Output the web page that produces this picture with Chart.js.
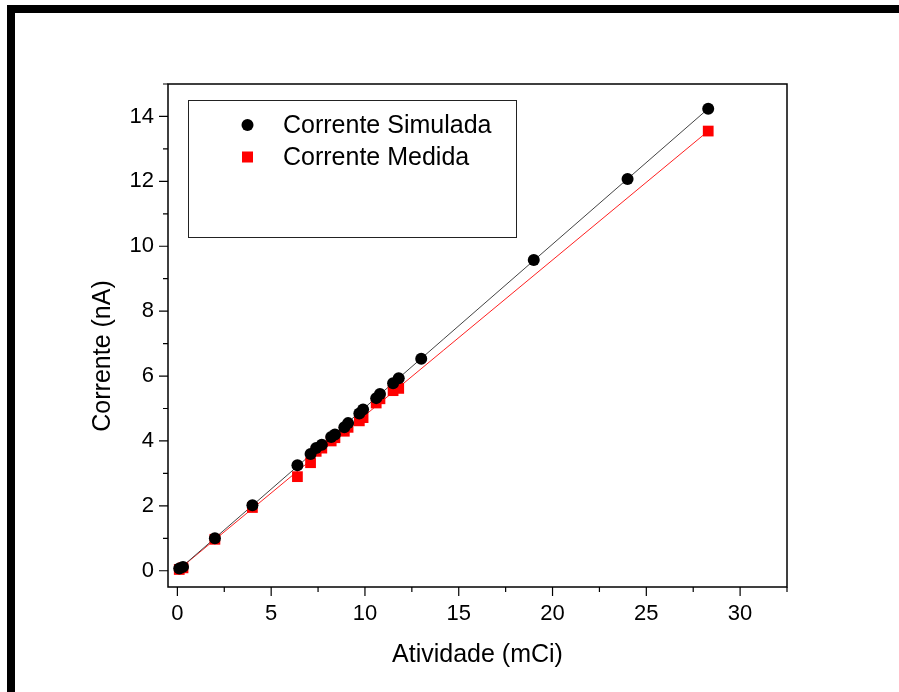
<!DOCTYPE html>
<html>
<head>
<meta charset="utf-8">
<script src="https://cdn.jsdelivr.net/npm/chart.js@4.4.0/dist/chart.umd.min.js"></script>
<style>
  html, body { margin: 0; padding: 0; background: #fff; overflow: hidden; }
  canvas { display: block; }
</style>
</head>
<body>
<canvas id="chart-corrente" width="899" height="692"></canvas>
<script>
// Corrente Simulada (black circles)
const simX = [0.1, 0.3, 2.0, 4.0, 6.4, 7.1, 7.4, 7.7, 8.2, 8.4, 8.9, 9.1, 9.7, 9.9, 10.6, 10.8, 11.5, 11.8, 13.0, 19.0, 24.0, 28.3];
const simY = [0.07, 0.12, 1.0, 2.02, 3.25, 3.6, 3.78, 3.88, 4.12, 4.2, 4.42, 4.55, 4.85, 4.97, 5.32, 5.45, 5.78, 5.93, 6.53, 9.58, 12.07, 14.24];

// Corrente Medida (red squares)
const medX = [0.1, 0.3, 2.0, 4.0, 6.4, 7.1, 7.4, 7.7, 8.2, 8.4, 8.9, 9.1, 9.7, 9.9, 10.6, 10.8, 11.5, 11.8, 28.3];
const medY = [0.04, 0.09, 0.97, 1.95, 2.9, 3.33, 3.68, 3.78, 4.0, 4.1, 4.3, 4.42, 4.62, 4.72, 5.17, 5.3, 5.55, 5.62, 13.55];

// linear fits, end points
const simFitX = [0.1, 28.3];
const simFitY = [0.05, 14.24];
const medFitX = [0.1, 28.3];
const medFitY = [0.05, 13.55];

// axes
const xTicks = [0, 5, 10, 15, 20, 25, 30];
const xMinor = [2.5, 7.5, 12.5, 17.5, 22.5, 27.5, 32.5];
const yTicks = [0, 2, 4, 6, 8, 10, 12, 14];
const yMinor = [1, 3, 5, 7, 9, 11, 13, 15];

const FONT = '"Liberation Sans", Arial, sans-serif';

const pts = (xs, ys) => xs.map((x, i) => ({ x: x, y: ys[i] }));

// frame, box, tick marks, axis titles and legend
const decor = {
    id: 'decor',
    beforeDraw(chart) {
        const c = chart.ctx;
        c.save();
        c.fillStyle = '#fff';
        c.fillRect(0, 0, chart.width, chart.height);
        c.fillStyle = '#000';
        c.fillRect(7, 5, 892, 8);
        c.fillRect(7, 5, 8, 687);
        c.restore();
    },
    afterDraw(chart) {
        const c = chart.ctx;
        const a = chart.chartArea;
        const xs = chart.scales.x, ys = chart.scales.y;
        c.save();
        c.strokeStyle = '#000';
        c.lineWidth = 1.5;
        c.strokeRect(a.left, a.top, a.right - a.left, a.bottom - a.top);

        c.lineWidth = 1.2;
        c.beginPath();
        xTicks.forEach(v => { const p = xs.getPixelForValue(v); c.moveTo(p, a.bottom); c.lineTo(p, a.bottom + 9); });
        xMinor.forEach(v => { const p = xs.getPixelForValue(v); c.moveTo(p, a.bottom); c.lineTo(p, a.bottom + 5); });
        yTicks.forEach(v => { const p = ys.getPixelForValue(v); c.moveTo(a.left, p); c.lineTo(a.left - 9, p); });
        yMinor.forEach(v => { const p = ys.getPixelForValue(v); c.moveTo(a.left, p); c.lineTo(a.left - 5, p); });
        c.stroke();

        // axis titles
        c.fillStyle = '#000';
        c.font = '25px ' + FONT;
        c.textAlign = 'center';
        c.textBaseline = 'alphabetic';
        c.fillText('Atividade (mCi)', (a.left + a.right) / 2, 662);
        c.translate(110, 356);
        c.rotate(-Math.PI / 2);
        c.fillText('Corrente (nA)', 0, 0);
        c.setTransform(1, 0, 0, 1, 0, 0);

        // legend box
        c.lineWidth = 1;
        c.strokeStyle = '#222';
        c.strokeRect(188.5, 100.5, 328, 137);
        c.font = '25px ' + FONT;
        c.textAlign = 'left';
        c.textBaseline = 'middle';
        const rows = [chart.data.datasets[0], chart.data.datasets[1]];
        rows.forEach((ds, i) => {
            const y = 125 + i * 32;
            c.fillStyle = ds.backgroundColor;
            if (ds.pointStyle === 'rect') {
                c.fillRect(242, y - 5.5, 11, 11);
            } else {
                c.beginPath();
                c.arc(247.5, y, 6, 0, Math.PI * 2);
                c.fill();
            }
            c.fillStyle = '#000';
            c.fillText(ds.label, 283, y + 1);
        });
        c.restore();
    }
};

let ctx = document.getElementById('chart-corrente').getContext('2d');

let chart = new Chart(ctx, {
    type: 'scatter',
    data: {
        datasets: [
            {
                label: 'Corrente Simulada',
                data: pts(simX, simY),
                pointStyle: 'circle',
                pointRadius: 6,
                backgroundColor: '#000',
                borderColor: '#000',
                borderWidth: 0,
                order: 0
            },
            {
                label: 'Corrente Medida',
                data: pts(medX, medY),
                pointStyle: 'rect',
                pointRadius: 7.6,
                backgroundColor: '#ff0000',
                borderColor: '#ff0000',
                borderWidth: 0,
                order: 1
            },
            {
                label: 'ajuste simulada',
                data: pts(simFitX, simFitY),
                showLine: true,
                pointRadius: 0,
                borderColor: '#444',
                borderWidth: 1,
                order: 2
            },
            {
                label: 'ajuste medida',
                data: pts(medFitX, medFitY),
                showLine: true,
                pointRadius: 0,
                borderColor: '#ff2020',
                borderWidth: 1,
                order: 2
            }
        ]
    },
    options: {
        responsive: false,
        maintainAspectRatio: false,
        devicePixelRatio: 1,
        animation: false,
        events: [],
        layout: { padding: { left: 0, top: 84, right: 112, bottom: 0 } },
        plugins: {
            legend: { display: false },
            tooltip: { enabled: false },
            title: { display: false }
        },
        scales: {
            x: {
                type: 'linear',
                min: -0.5,
                max: 32.5,
                grid: { display: false, drawTicks: false },
                border: { display: false },
                afterBuildTicks: s => { s.ticks = xTicks.map(v => ({ value: v })); },
                afterFit: s => { s.height = 105; },
                ticks: { color: '#000', font: { family: FONT, size: 22 }, padding: 14, maxRotation: 0 }
            },
            y: {
                type: 'linear',
                min: -0.5,
                max: 15,
                grid: { display: false, drawTicks: false },
                border: { display: false },
                afterBuildTicks: s => { s.ticks = yTicks.map(v => ({ value: v })); },
                afterFit: s => { s.width = 168; },
                ticks: { color: '#000', font: { family: FONT, size: 22 }, padding: 14 }
            }
        }
    },
    plugins: [decor]
});
</script>
</body>
</html>
